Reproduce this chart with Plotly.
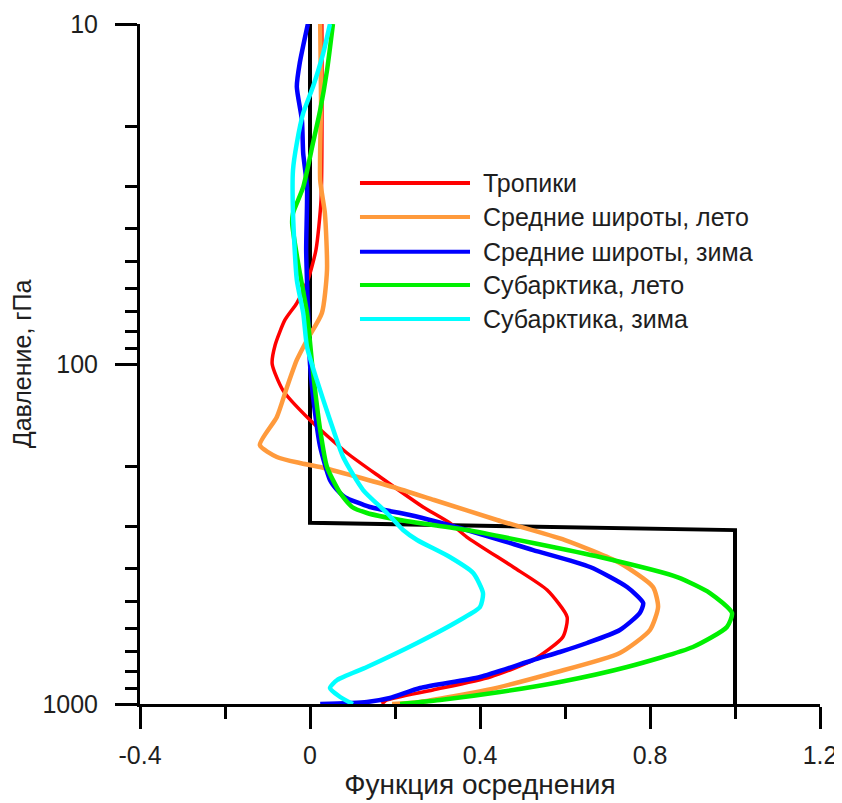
import plotly.graph_objects as go

# ---- data ----
names = ["Тропики", "Средние широты, лето", "Средние широты, зима",
         "Субарктика, лето", "Субарктика, зима"]
colors = ["#ff0000", "#ff9a3c", "#0000ff", "#00f000", "#00ffff"]

# Тропики
trop_p = [10, 32.9, 46.2, 56.6, 66.2, 74.2, 87.9, 100, 119.3, 146.1, 182.7, 215,
          263.4, 293.5, 322.8, 395.5, 462.1, 554.8, 635.2, 742.3, 832.9, 909.6, 973.3, 1000]
trop_x = [0.028, 0.026, 0.014, -0.005, -0.031, -0.059, -0.082, -0.089, -0.064, 0.0, 0.087, 0.165,
          0.266, 0.329, 0.369, 0.478, 0.558, 0.605, 0.595, 0.525, 0.424, 0.289, 0.181, 0.169]

# Средние широты, лето
msum_p = [10, 16.7, 28.8, 36.0, 52.9, 70.8, 85.0, 97.3, 116.8, 143.2, 173.1, 187.7, 195.5,
          200.9, 230.0, 251.2, 287.6, 329.4, 384.9, 452.9, 518.5, 605.8, 707.9, 810.6, 909.6,
          986.5, 1000]
msum_x = [0.024, 0.026, 0.024, 0.035, 0.040, 0.028, -0.007, -0.031, -0.054, -0.078, -0.118,
          -0.078, -0.024, 0.024, 0.195, 0.292, 0.44, 0.6, 0.729, 0.807, 0.819, 0.8, 0.729,
          0.572, 0.416, 0.259, 0.193]

# Средние широты, зима
mwin_p = [10, 13.0, 15.3, 19.2, 24.0, 30.2, 46.2, 68.0, 100, 146.1, 175.4, 219.4, 234.8,
          246.2, 263.4, 278.1, 307.8, 352.5, 395.5, 452.9, 504.6, 540.0, 605.8, 661.6, 703.2,
          742.3, 832.9, 897.3, 960.4, 986.5, 1000]
mwin_x = [-0.005, -0.024, -0.031, -0.019, -0.016, -0.007, -0.009, -0.005, 0.0, 0.014, 0.024,
          0.047, 0.064, 0.082, 0.141, 0.235, 0.369, 0.525, 0.659, 0.746, 0.784, 0.776, 0.729,
          0.652, 0.588, 0.525, 0.4, 0.259, 0.188, 0.134, 0.024]

# Субарктика, лето
ssum_p = [10, 13.7, 17.9, 22.4, 30.2, 36.0, 38.5, 50.5, 70.8, 100, 156.4, 200.9, 239.6,
          263.4, 274.3, 287.6, 307.8, 336.2, 369.6, 423.2, 471.6, 540.0, 593.6, 679.8, 778.4,
          861.6, 922.1, 973.3, 1000]
ssum_x = [0.054, 0.040, 0.024, 0.007, -0.016, -0.040, -0.042, -0.028, -0.007, 0.005, 0.024,
          0.040, 0.071, 0.099, 0.134, 0.212, 0.369, 0.525, 0.682, 0.864, 0.941, 0.993, 0.981,
          0.901, 0.746, 0.588, 0.447, 0.306, 0.212]

# Субарктика, зима
swin_p = [10, 12.2, 15.3, 18.3, 22.4, 26.9, 36.0, 56.6, 70.8, 89.1, 111.4, 146.1, 187.7,
          234.8, 274.3, 307.8, 329.4, 369.6, 411.9, 471.6, 518.5, 566.1, 661.6, 778.4, 850.0,
          897.3, 953.8, 1000]
swin_x = [0.047, 0.031, 0.007, -0.016, -0.031, -0.040, -0.040, -0.031, -0.016, -0.007, 0.016,
          0.047, 0.078, 0.125, 0.181, 0.219, 0.252, 0.329, 0.384, 0.407, 0.4, 0.353, 0.252,
          0.134, 0.064, 0.047, 0.071, 0.101]

# ступенчатая функция (чёрная)
step_x = [0, 0, 1, 1]
step_p = [10, 293, 308, 1000]

x_ticks = [-0.4, 0, 0.4, 0.8, 1.2]
x_ticktext = ["-0.4", "0", "0.4", "0.8", "1.2"]
x_minor = [-0.2, 0.2, 0.6, 1.0]
y_ticks = [10, 100, 1000]
y_minor = [20, 30, 40, 50, 60, 70, 80, 90, 200, 300, 400, 500, 600, 700, 800, 900]

series = [(trop_x, trop_p), (msum_x, msum_p), (mwin_x, mwin_p), (ssum_x, ssum_p), (swin_x, swin_p)]
widths = [3.5, 4.5, 4.5, 4.5, 4.5]

FONT = "Liberation Sans, Arial, sans-serif"
TXT = "#1e1e1e"

fig = go.Figure()
fig.add_trace(go.Scatter(x=step_x, y=step_p, mode="lines",
                         line=dict(color="black", width=4), showlegend=False, hoverinfo="skip"))
for (xs, ps), nm, c, w in zip(series, names, colors, widths):
    fig.add_trace(go.Scatter(x=xs, y=ps, mode="lines", name=nm,
                             line=dict(color=c, width=w, shape="spline", smoothing=0.6),
                             showlegend=False))

# legend drawn manually (long line samples as in the original)
leg_y = [0.766, 0.716, 0.665, 0.616, 0.566]
for nm, c, yy in zip(names, colors, leg_y):
    fig.add_shape(type="line", xref="paper", yref="paper", x0=0.3235, x1=0.4853,
                  y0=yy, y1=yy, line=dict(color=c, width=4))
    fig.add_annotation(xref="paper", yref="paper", x=0.501, y=yy, text=nm,
                       showarrow=False, xanchor="left", yanchor="middle",
                       font=dict(size=25, color=TXT, family=FONT))

axis_common = dict(showline=True, linewidth=3, linecolor="black", mirror=False,
                   ticks="outside", ticklen=22, tickwidth=3, tickcolor="black",
                   showgrid=False, zeroline=False, automargin=False,
                   tickfont=dict(size=25, color=TXT, family=FONT))

fig.update_xaxes(range=[-0.4, 1.2], tickmode="array", tickvals=x_ticks, ticktext=x_ticktext,
                 minor=dict(tickmode="array", tickvals=x_minor, ticks="outside", ticklen=12,
                            tickwidth=3, tickcolor="black", showgrid=False),
                 ticklabelstandoff=5,
                 title=dict(text="Функция осреднения", font=dict(size=28, color=TXT, family=FONT),
                            standoff=5),
                 **axis_common)
fig.update_yaxes(type="log", range=[3, 1], tickmode="array", tickvals=y_ticks,
                 ticktext=[str(v) for v in y_ticks],
                 minor=dict(tickmode="array", tickvals=y_minor, ticks="outside", ticklen=12,
                            tickwidth=3, tickcolor="black", showgrid=False),
                 ticklabelstandoff=12,
                 title=dict(text="Давление, гПа", font=dict(size=25, color=TXT, family=FONT),
                            standoff=8),
                 **axis_common)

# the page body adds an 8 px offset; margins compensate so the plot area sits
# at x 140..820, y 24..704 in the window
fig.update_layout(width=842, height=803, margin=dict(l=132, r=30, t=16, b=107),
                  plot_bgcolor="white", paper_bgcolor="white", showlegend=False,
                  font=dict(family=FONT, color=TXT))

fig.write_html("out.html")
